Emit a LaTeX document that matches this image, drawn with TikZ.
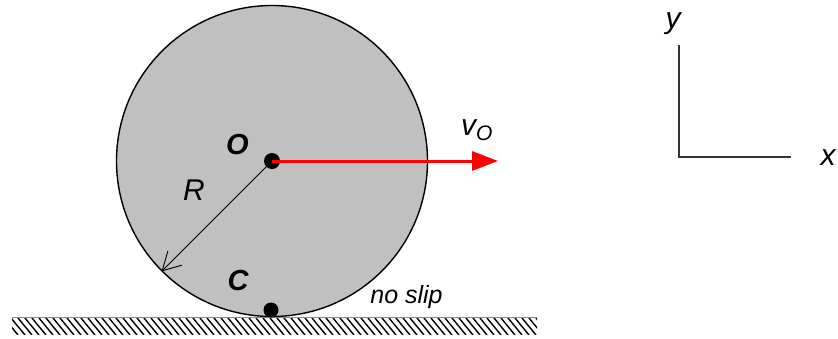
\documentclass[tikz,border=0pt]{standalone}
\usepackage{fontspec}
\setmainfont{Liberation Sans}
\usetikzlibrary{arrows.meta}
\definecolor{wheelgray}{HTML}{C0C0C0}
\tikzset{
  wheel/.style={circle,draw=black,line width=1.4pt,fill=wheelgray,minimum size=311pt,inner sep=0pt},
  dotmark/.style={circle,fill=black,inner sep=0pt,minimum size=#1},
  lbl/.style={inner sep=0pt,font=\fontsize{30}{34}\selectfont\itshape},
  axlbl/.style={inner sep=0pt,font=\fontsize{30}{34}\selectfont\itshape},
  bold lbl/.style={inner sep=0pt,font=\fontsize{29}{33}\selectfont\bfseries\itshape},
  small lbl/.style={inner sep=0pt,font=\fontsize{25}{29}\selectfont\itshape},
  axis/.style={line width=1.3pt,draw=black!80},
  hatch/.style={line width=1.4pt}
}
\begin{document}
\begin{tikzpicture}[x=1pt,y=-1pt]
\useasboundingbox (0,0) rectangle (838,338);
% ground hatching
\begin{scope}
  \clip (12,318) rectangle (537,334);
  \foreach \i in {-10,-3,...,560} {
    \draw[hatch] (\i,318) -- (\i+14,335);
  }
\end{scope}
\coordinate (gl) at (12,317);
\coordinate (gr) at (537,317);
\draw[black!45,line width=0.6pt] (gl) -- (gr);
% wheel
\node[wheel] (wheel) at (272,161) {};
\coordinate (O) at (272,161);
\coordinate (vend) at (498,161);
\node[dotmark=16pt] (Odot) at (O) {};
\node[dotmark=15pt] (Cdot) at (271,310) {};
% radius arrow
\draw[line width=0.9pt,-{Straight Barb[length=18pt,width=20pt,line width=0.9pt]}] (O) -- (wheel.225);
% velocity arrow
\draw[red,line width=3pt,-{Triangle[length=26pt,width=19pt]}] (O) -- (vend);
% labels
\node[bold lbl] (Olbl) at (237.5,144.5) {O};
\node[bold lbl] (Clbl) at (238,281) {C};
\node[lbl] (Rlbl) at (194,190) {R};
\node[lbl,anchor=base west] (vlbl) at (461,135) {v};
\node[inner sep=0pt,anchor=base west,font=\fontsize{21}{24}\selectfont\itshape] (vsub) at (476,140) {O};
\node[small lbl,anchor=base] (noslip) at (406.5,303) {no slip};
% axes
\coordinate (orig) at (679,157);
\coordinate (ytop) at (679,45);
\coordinate (xend) at (791,157);
\draw[axis] (ytop) -- (orig) -- (xend);
\node[axlbl] (ylbl) at (673,24) {y};
\node[axlbl] (xlbl) at (828,158) {x};
\end{tikzpicture}
\end{document}
